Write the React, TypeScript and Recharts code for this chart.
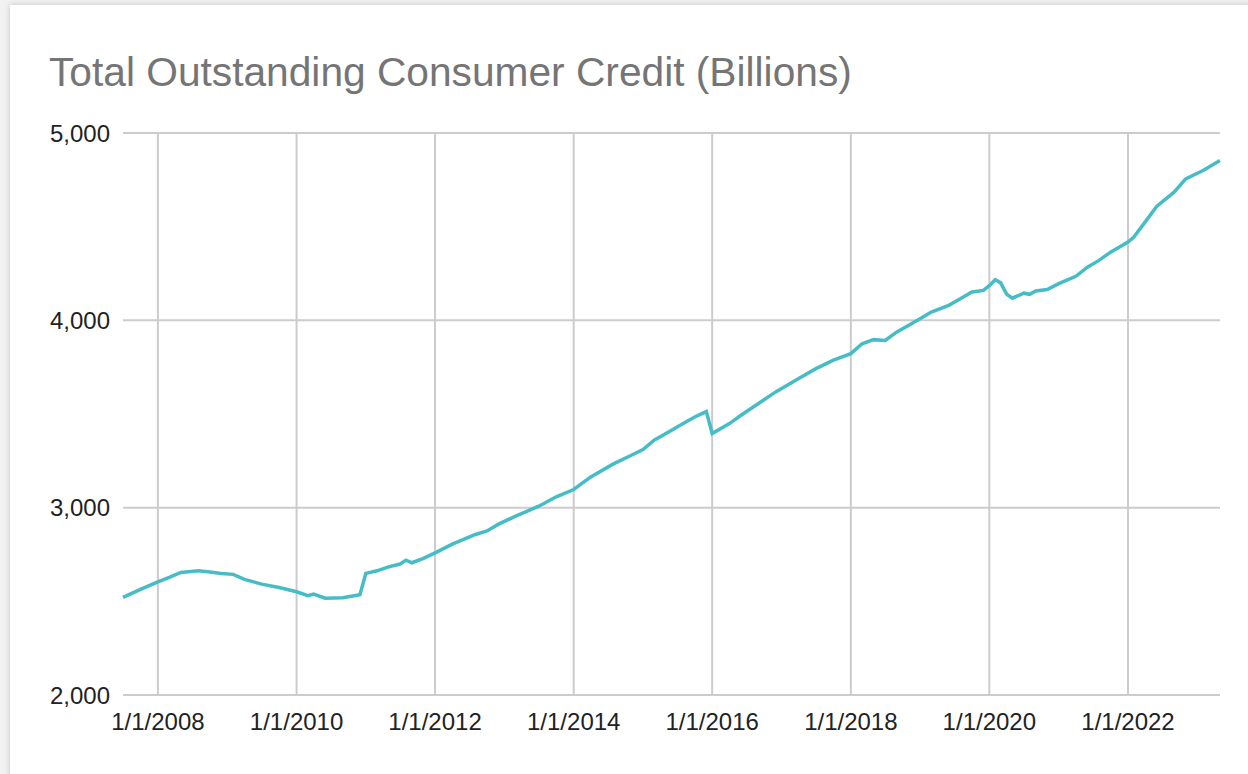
import { CartesianGrid, Line, LineChart, ReferenceLine, XAxis, YAxis } from 'recharts'

// month of each reading (YYYY-MM) and outstanding credit in billions
const months = [
  '2007-07', '2007-10', '2008-01', '2008-03', '2008-05', '2008-08', '2008-10', '2008-12',
  '2009-02', '2009-04', '2009-07', '2009-10', '2010-01', '2010-03', '2010-04', '2010-06',
  '2010-09', '2010-11', '2010-12', '2011-01', '2011-03', '2011-05', '2011-07', '2011-08',
  '2011-09', '2011-11', '2012-01', '2012-04', '2012-08', '2012-10', '2012-12', '2013-03',
  '2013-07', '2013-10', '2014-01', '2014-04', '2014-08', '2014-11', '2015-01', '2015-03',
  '2015-06', '2015-08', '2015-10', '2015-12', '2016-01', '2016-04', '2016-06', '2016-09',
  '2016-12', '2017-04', '2017-07', '2017-10', '2018-01', '2018-03', '2018-05', '2018-07',
  '2018-09', '2019-01', '2019-03', '2019-06', '2019-08', '2019-10', '2019-12', '2020-01',
  '2020-02', '2020-03', '2020-04', '2020-05', '2020-07', '2020-08', '2020-09', '2020-11',
  '2021-01', '2021-04', '2021-06', '2021-08', '2021-10', '2022-01', '2022-02', '2022-04',
  '2022-06', '2022-09', '2022-11', '2023-02', '2023-05',
]

const credit = [
  2521, 2564, 2604, 2628, 2654, 2663, 2657, 2649,
  2644, 2617, 2592, 2574, 2551, 2530, 2539, 2517,
  2519, 2530, 2535, 2649, 2663, 2684, 2699, 2720,
  2706, 2729, 2759, 2805, 2857, 2876, 2912, 2955,
  3008, 3058, 3097, 3164, 3235, 3280, 3310, 3360,
  3413, 3449, 3484, 3513, 3396, 3449, 3493, 3556,
  3618, 3689, 3742, 3787, 3822, 3875, 3897, 3893,
  3938, 4009, 4044, 4080, 4115, 4151, 4160, 4185,
  4217, 4200, 4140, 4118, 4145, 4139, 4157, 4164,
  4196, 4235, 4284, 4320, 4364, 4418, 4444, 4524,
  4608, 4684, 4755, 4800, 4853,
]

const yearTicks = [2008, 2010, 2012, 2014, 2016, 2018, 2020, 2022]
const valueTicks = [2000, 3000, 4000, 5000]

const toTime = (m: string) => {
  const [y, mo] = m.split('-').map(Number)
  return Date.UTC(y, mo - 1, 1)
}

const chartData = months.map((m, i) => ({ t: toTime(m), value: credit[i] }))
const xTicks = yearTicks.map(y => Date.UTC(y, 0, 1))

const tickStyle = { fill: '#222', fontSize: 24, fontFamily: '"Liberation Sans", Arial, sans-serif' }

export default function App() {
  return (
    <div style={{ position: 'fixed', inset: 0, background: '#f1f1f1', overflow: 'hidden' }}>
      <div
        style={{
          position: 'absolute',
          left: 10,
          top: 5,
          width: 1300,
          height: 820,
          background: '#fff',
          boxShadow: '0 0 6px rgba(0,0,0,0.18)',
        }}
      />
      <div
        style={{
          position: 'absolute',
          left: 49,
          top: 52,
          fontSize: 40.7,
          lineHeight: '40px',
          color: '#757575',
          fontFamily: '"Liberation Sans", Arial, sans-serif',
          whiteSpace: 'nowrap',
        }}
      >
        Total Outstanding Consumer Credit (Billions)
      </div>
      <div style={{ position: 'absolute', left: 0, top: 0 }}>
        <LineChart width={1248} height={774} data={chartData} margin={{ top: 133, right: 28, bottom: 39, left: 10 }}>
          <CartesianGrid stroke="#cccccc" strokeWidth={2} vertical={false} />
          {xTicks.map(t => (
            <ReferenceLine key={t} x={t} stroke="#cccccc" strokeWidth={2} />
          ))}
          <XAxis
            dataKey="t"
            type="number"
            scale="time"
            domain={['dataMin', 'dataMax']}
            ticks={xTicks}
            tickFormatter={(v: number) => `1/1/${new Date(v).getUTCFullYear()}`}
            axisLine={false}
            tickLine={false}
            tickSize={0}
            tickMargin={18}
            height={40}
            tick={tickStyle}
            interval={0}
          />
          <YAxis
            domain={[2000, 5000]}
            ticks={valueTicks}
            tickFormatter={(v: number) => v.toLocaleString('en-US')}
            axisLine={false}
            tickLine={false}
            tickSize={0}
            tickMargin={13}
            width={113}
            tick={tickStyle}
            interval={0}
          />
          <Line
            type="linear"
            dataKey="value"
            stroke="#46bdc6"
            strokeWidth={3.5}
            dot={false}
            isAnimationActive={false}
          />
        </LineChart>
      </div>
    </div>
  )
}
